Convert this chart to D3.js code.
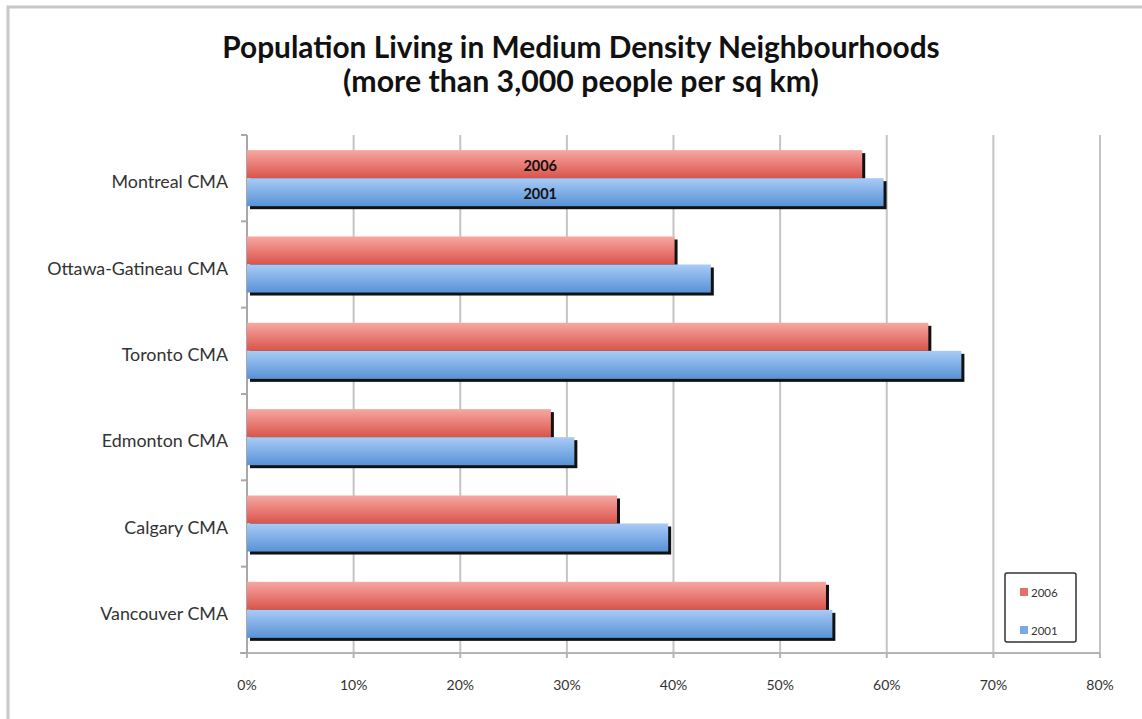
<!DOCTYPE html>
<html>
<head>
<meta charset="utf-8">
<script src="https://cdn.jsdelivr.net/npm/d3@7"></script>
<style>
  body { margin: 0; background: #fff; }
  text { font-family: Lato, "Open Sans", sans-serif; }
</style>
</head>
<body>
<script>
// data
var cities = ["Montreal CMA", "Ottawa-Gatineau CMA", "Toronto CMA", "Edmonton CMA", "Calgary CMA", "Vancouver CMA"];
var series = ["2006", "2001"];
var values2006 = [57.7, 40.1, 63.9, 28.5, 34.7, 54.3];
var values2001 = [59.7, 43.5, 67.0, 30.7, 39.5, 54.9];
var xTicks = [0, 10, 20, 30, 40, 50, 60, 70, 80];
var titleLines = ["Population Living in Medium Density Neighbourhoods", "(more than 3,000 people per sq km)"];

var width = 1142, height = 719;
var plot = {left: 247, right: 1100, top: 135, bottom: 653};

var svg = d3.select("body").append("svg")
    .attr("width", width)
    .attr("height", height);

// outer frame
svg.append("rect")
    .attr("x", 8).attr("y", 7)
    .attr("width", width + 20).attr("height", height + 20)
    .attr("fill", "#fff")
    .attr("stroke", "#c8c8c8")
    .attr("stroke-width", 3);

var defs = svg.append("defs");
function grad(id, c1, c2) {
  var g = defs.append("linearGradient").attr("id", id)
      .attr("x1", 0).attr("y1", 0).attr("x2", 0).attr("y2", 1);
  g.append("stop").attr("offset", "0%").attr("stop-color", c1);
  g.append("stop").attr("offset", "100%").attr("stop-color", c2);
}
grad("g2006", "#f7a7a2", "#d9544b");
grad("g2001", "#a9cbf6", "#5892d6");
var fills = {"2006": "url(#g2006)", "2001": "url(#g2001)"};
var swatch = {"2006": "#e4706a", "2001": "#7aaae6"};

var x = d3.scaleLinear().domain([0, 80]).range([plot.left, plot.right]);
var y0 = d3.scaleBand().domain(cities).range([plot.top, plot.bottom]).padding(0);
var y1 = d3.scaleBand().domain(series).range([0, y0.bandwidth()]).paddingInner(0).paddingOuter(0.54);

// gridlines
svg.append("g").selectAll("line")
  .data(xTicks.slice(1))
  .enter().append("line")
    .attr("x1", d => x(d)).attr("x2", d => x(d))
    .attr("y1", plot.top).attr("y2", plot.bottom)
    .attr("stroke", "#c4c4c4")
    .attr("stroke-width", 2);

// bottom axis
var xAxis = svg.append("g").attr("transform", "translate(0," + plot.bottom + ")");
xAxis.append("line")
    .attr("x1", plot.left - 7).attr("x2", plot.right)
    .attr("stroke", "#b4b4b4").attr("stroke-width", 2);
xAxis.selectAll("line.tick").data(xTicks).enter().append("line")
    .attr("class", "tick")
    .attr("x1", d => x(d)).attr("x2", d => x(d))
    .attr("y1", 0).attr("y2", 5)
    .attr("stroke", "#b4b4b4").attr("stroke-width", 2);
xAxis.selectAll("text").data(xTicks).enter().append("text")
    .attr("x", d => x(d))
    .attr("y", 37)
    .attr("text-anchor", "middle")
    .attr("font-size", 14)
    .attr("fill", "#333")
    .text(d => d + "%");

// left axis
var yAxis = svg.append("g");
yAxis.append("line")
    .attr("x1", plot.left).attr("x2", plot.left)
    .attr("y1", plot.top).attr("y2", plot.bottom)
    .attr("stroke", "#a8a8a8").attr("stroke-width", 2);
var bounds = cities.map(c => y0(c)).concat([plot.bottom]);
yAxis.selectAll("line.tick").data(bounds).enter().append("line")
    .attr("class", "tick")
    .attr("x1", plot.left - 6).attr("x2", plot.left)
    .attr("y1", d => d).attr("y2", d => d)
    .attr("stroke", "#a8a8a8").attr("stroke-width", 2);
var catLabels = yAxis.selectAll("text").data(cities).enter().append("text")
    .attr("x", 228)
    .attr("y", d => y0(d) + y0.bandwidth() / 2 + 4)
    .attr("dy", "0.35em")
    .attr("text-anchor", "end")
    .attr("font-size", 14)
    .attr("fill", "#333")
    .text(d => d);
// scale the label font so the longest label matches the reference width
var longW = catLabels.filter(d => d === "Ottawa-Gatineau CMA").node().getComputedTextLength();
catLabels.attr("font-size", 14 * 181 / longW);

// bars
var rows = [];
cities.forEach(function(c, i) {
  rows.push({city: c, s: "2006", v: values2006[i]});
  rows.push({city: c, s: "2001", v: values2001[i]});
});

var bars = svg.append("g");
bars.selectAll("rect.shadow").data(rows).enter().append("rect")
    .attr("class", "shadow")
    .attr("x", x(0) + 3)
    .attr("y", d => y0(d.city) + y1(d.s) + 3)
    .attr("width", d => x(d.v) - x(0))
    .attr("height", y1.bandwidth())
    .attr("fill", "#111");
bars.selectAll("rect.bar").data(rows).enter().append("rect")
    .attr("class", "bar")
    .attr("x", x(0))
    .attr("y", d => y0(d.city) + y1(d.s))
    .attr("width", d => x(d.v) - x(0))
    .attr("height", y1.bandwidth())
    .attr("fill", d => fills[d.s]);

// series labels on the first category
svg.append("g").selectAll("text")
  .data(series)
  .enter().append("text")
    .attr("x", x(27.5))
    .attr("y", d => y0(cities[0]) + y1(d) + y1.bandwidth() / 2 + 2)
    .attr("dy", "0.35em")
    .attr("text-anchor", "middle")
    .attr("font-size", 14.5)
    .attr("font-weight", "bold")
    .attr("fill", "#111")
    .text(d => d);

// legend
var lg = svg.append("g").attr("transform", "translate(1005,573)");
lg.append("rect")
    .attr("width", 71).attr("height", 69)
    .attr("rx", 2)
    .attr("fill", "#fff")
    .attr("stroke", "#333")
    .attr("stroke-width", 1.5);
var li = lg.selectAll("g.item").data(series).enter().append("g")
    .attr("class", "item")
    .attr("transform", (d, i) => "translate(15," + (15 + i * 38) + ")");
li.append("rect")
    .attr("width", 8).attr("height", 8)
    .attr("fill", d => swatch[d]);
li.append("text")
    .attr("x", 11).attr("y", 5)
    .attr("dy", "0.35em")
    .attr("font-size", 11.5)
    .attr("fill", "#333")
    .text(d => d);

// title, sized to the reference widths
var targetW = [718, 476];
var titleY = [58, 92];
titleLines.forEach(function(t, i) {
  var tx = svg.append("text")
      .attr("x", 581)
      .attr("y", titleY[i])
      .attr("text-anchor", "middle")
      .attr("font-weight", "bold")
      .attr("font-size", 24)
      .attr("fill", "#111")
      .text(t);
  var w = tx.node().getComputedTextLength();
  tx.attr("font-size", 24 * targetW[i] / w);
});
</script>
</body>
</html>
